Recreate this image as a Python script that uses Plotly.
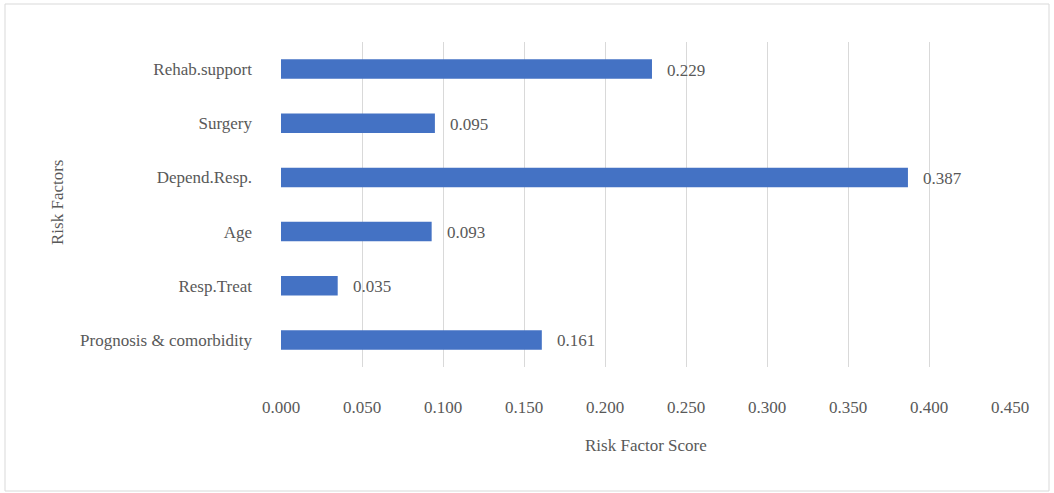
import plotly.graph_objects as go

categories = ["Prognosis & comorbidity", "Resp.Treat", "Age", "Depend.Resp.", "Surgery", "Rehab.support"]
scores = [0.161, 0.035, 0.093, 0.387, 0.095, 0.229]
tick_vals = [0.0, 0.05, 0.10, 0.15, 0.20, 0.25, 0.30, 0.35, 0.40, 0.45]
tick_text = ["0.000", "0.050", "0.100", "0.150", "0.200", "0.250", "0.300", "0.350", "0.400", "0.450"]

W, H = 1054, 493
L, R, T, B = 281, 44, 42, 126
pw, ph = W - L - R, H - T - B

FONT = "Liberation Serif, Times New Roman, serif"
GREY = "#595959"
FS = 17

fig = go.Figure()
fig.add_trace(go.Bar(
    y=categories, x=scores, orientation="h",
    marker=dict(color="#4472C4", line=dict(width=0)),
    width=0.36, hoverinfo="skip",
))

for c, v in zip(categories, scores):
    fig.add_annotation(x=v, y=c, xref="x", yref="y", text=f"{v:.3f}",
                       showarrow=False, xanchor="left", yanchor="middle",
                       xshift=13, yshift=-1, font=dict(family=FONT, size=FS, color=GREY))

def px2x(px):
    return (px - L) / pw

def px2y(py):
    return 1 - (py - T) / ph

fig.add_shape(type="rect", xref="paper", yref="paper",
              x0=px2x(5), x1=px2x(1049), y0=px2y(491), y1=px2y(4),
              line=dict(color="#D9D9D9", width=1), fillcolor="rgba(0,0,0,0)", layer="below")

fig.add_annotation(xref="paper", yref="paper", x=0.5, y=px2y(445),
                   text="Risk Factor Score", showarrow=False, xanchor="center", yanchor="middle",
                   font=dict(family=FONT, size=FS, color=GREY))
fig.add_annotation(xref="paper", yref="paper", x=px2x(58), y=px2y(203),
                   text="Risk Factors", showarrow=False, textangle=-90, xanchor="center", yanchor="middle",
                   font=dict(family=FONT, size=FS, color=GREY))

fig.update_layout(
    width=W, height=H,
    margin=dict(l=L, r=R, t=T, b=B, autoexpand=False),
    paper_bgcolor="white", plot_bgcolor="white",
    showlegend=False,
    bargap=0.64,
    font=dict(family=FONT, size=FS, color=GREY),
)
fig.update_xaxes(range=[0, 0.45], tickvals=tick_vals, ticktext=tick_text,
                 showgrid=True, gridcolor="#D9D9D9", gridwidth=1,
                 zeroline=False, showline=False, ticks="", ticklabelstandoff=28,
                 tickfont=dict(family=FONT, size=FS, color=GREY), fixedrange=True)
fig.update_yaxes(categoryorder="array", categoryarray=categories,
                 showgrid=False, zeroline=False, showline=False, ticks="",
                 ticklabelstandoff=28,
                 tickfont=dict(family=FONT, size=FS, color=GREY), fixedrange=True)

fig.write_html("out.html", config={"displayModeBar": False})
